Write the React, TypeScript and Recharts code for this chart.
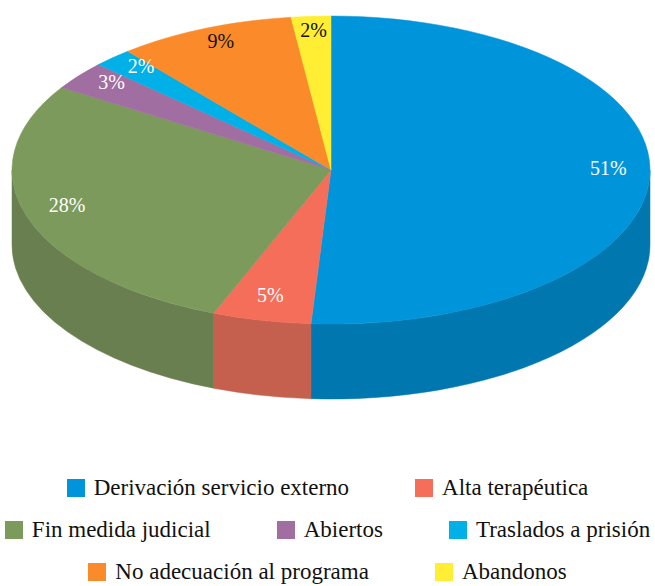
import { PieChart, Pie } from "recharts";

const categories = [
  "Derivación servicio externo",
  "Alta terapéutica",
  "Fin medida judicial",
  "Abiertos",
  "Traslados a prisión",
  "No adecuación al programa",
  "Abandonos",
];
const shares = [51, 5, 28, 3, 2, 9, 2];
const topColors = ["#0095DA", "#F56E5A", "#7B9A5B", "#A06EA0", "#00B0E6", "#FA8A2A", "#FFEE33"];
const sideColors = ["#0077AE", "#C6604E", "#6A7F4F", "#83587F", "#0090BC", "#CC7022", "#D4C52A"];
const labelColors = ["#fff", "#fff", "#fff", "#fff", "#fff", "#111", "#111"];
const legendRows = [[0, 1], [2, 3, 4], [5, 6]];

const data = categories.map((name, i) => ({ name, value: shares[i] }));

const FONT = "'Liberation Serif', serif";
const TILT = 154 / 319; // vertical squash of the top ellipse
const DEPTH = 75;
const RAD = Math.PI / 180;

const pt = (cx: number, cy: number, rx: number, ry: number, a: number) => [
  cx + rx * Math.cos(a * RAD),
  cy - ry * Math.sin(a * RAD),
];

// side wall: only the front half (angles 0 .. -180) shows
const renderWall = (p: any) => {
  const { cx, cy, outerRadius, startAngle, endAngle, index } = p;
  const rx = outerRadius;
  const ry = outerRadius * TILT;
  const a1 = Math.min(startAngle, 0);
  const a2 = Math.max(endAngle, -180);
  if (a1 <= a2) return <g />;
  const [x1, y1] = pt(cx, cy, rx, ry, a1);
  const [x2, y2] = pt(cx, cy, rx, ry, a2);
  const d = `M${x1},${y1} A${rx},${ry} 0 0 1 ${x2},${y2} L${x2},${y2 + DEPTH} A${rx},${ry} 0 0 0 ${x1},${y1 + DEPTH} Z`;
  const c = sideColors[index];
  return <path d={d} fill={c} stroke={c} strokeWidth={0.5} />;
};

const renderTop = (p: any) => {
  const { cx, cy, outerRadius, startAngle, endAngle, index } = p;
  const rx = outerRadius;
  const ry = outerRadius * TILT;
  const [x1, y1] = pt(cx, cy, rx, ry, startAngle);
  const [x2, y2] = pt(cx, cy, rx, ry, endAngle);
  const large = Math.abs(startAngle - endAngle) > 180 ? 1 : 0;
  const sweep = startAngle > endAngle ? 1 : 0;
  const d = `M${cx},${cy} L${x1},${y1} A${rx},${ry} 0 ${large} ${sweep} ${x2},${y2} Z`;
  const c = topColors[index];
  return <path d={d} fill={c} stroke={c} strokeWidth={0.5} />;
};

const renderLabel = (p: any) => {
  const { cx, cy, outerRadius, midAngle, index, value } = p;
  const [x, y] = pt(cx, cy, outerRadius * 0.87, outerRadius * TILT * 0.87, midAngle);
  return (
    <text
      x={x}
      y={y - 6}
      fill={labelColors[index]}
      textAnchor="middle"
      dominantBaseline="central"
      fontFamily={FONT}
      fontSize={20}
    >
      {`${value}%`}
    </text>
  );
};

export default function App() {
  const pieProps = {
    data,
    dataKey: "value",
    cx: 331,
    cy: 170,
    outerRadius: 319,
    startAngle: 90,
    endAngle: -270,
    isAnimationActive: false,
    fill: "none",
    stroke: "none",
    labelLine: false,
    legendType: "none" as const,
  };
  return (
    <div style={{ position: "absolute", left: 0, top: 0, width: 655, height: 586, background: "#fff" }}>
      <PieChart width={655} height={440} margin={{ top: 0, right: 0, bottom: 0, left: 0 }}>
        <Pie {...pieProps} label={renderWall} />
        <Pie {...pieProps} label={renderTop} />
        <Pie {...pieProps} label={renderLabel} />
      </PieChart>
      <div
        style={{
          position: "absolute",
          left: 0,
          top: 467,
          width: 655,
          fontFamily: FONT,
          fontSize: 23,
          color: "#111",
        }}
      >
        {legendRows.map((row, r) => (
          <div
            key={r}
            style={{ display: "flex", justifyContent: "center", gap: 66, height: 42, alignItems: "center" }}
          >
            {row.map((i) => (
              <div key={i} style={{ display: "flex", alignItems: "center" }}>
                <span
                  style={{ width: 18, height: 18, background: topColors[i], marginRight: 9, display: "inline-block" }}
                />
                <span>{categories[i]}</span>
              </div>
            ))}
          </div>
        ))}
      </div>
    </div>
  );
}
